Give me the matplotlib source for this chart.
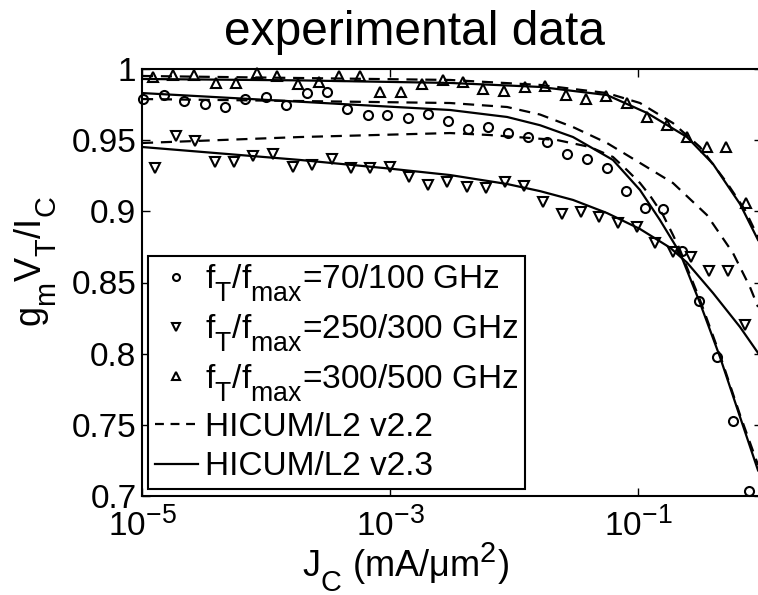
import numpy as np
import matplotlib
matplotlib.use("Agg")
import matplotlib.pyplot as plt
from matplotlib.lines import Line2D
from matplotlib.ticker import NullLocator

plt.rcParams["font.family"] = ["Liberation Sans", "DejaVu Sans"]
plt.rcParams["mathtext.fontset"] = "custom"
plt.rcParams["mathtext.rm"] = "Liberation Sans"
plt.rcParams["mathtext.it"] = "Liberation Sans:italic"
plt.rcParams["mathtext.bf"] = "Liberation Sans:bold"

# MATLAB-style subscripts: a bit larger and lower than matplotlib's default
try:
    from matplotlib import _mathtext
    _mathtext.SHRINK_FACTOR = 0.8
    _mathtext.FontConstantsBase.sub1 = 0.75
except Exception:
    pass

# measured points, x given as log10(J_C / (mA/um^2))
circ_logj = [-4.992, -4.823, -4.661, -4.492, -4.331, -4.169, -4.000, -3.839,
             -3.669, -3.508, -3.347, -3.177, -3.024, -2.855, -2.694, -2.532,
             -2.371, -2.210, -2.048, -1.887, -1.734, -1.573, -1.411, -1.250,
             -1.097, -0.944, -0.798, -0.645, -0.508, -0.363, -0.234, -0.105]
circ_gm = [0.9789, 0.9817, 0.9775, 0.9754, 0.9733, 0.9789, 0.9803, 0.9747,
           0.9831, 0.9838, 0.9719, 0.9677, 0.9677, 0.9656, 0.9684, 0.9635,
           0.9578, 0.9592, 0.9550, 0.9522, 0.9487, 0.9403, 0.9368, 0.9304,
           0.9143, 0.9023, 0.9016, 0.8721, 0.8370, 0.7977, 0.7527, 0.7035]

down_logj = [-4.895, -4.726, -4.573, -4.411, -4.258, -4.105, -3.944, -3.782,
             -3.629, -3.468, -3.315, -3.161, -3.000, -2.847, -2.694, -2.540,
             -2.379, -2.226, -2.073, -1.919, -1.766, -1.613, -1.460, -1.315,
             -1.161, -1.008, -0.863, -0.718, -0.573, -0.427, -0.274, -0.137]
down_gm = [0.9304, 0.9529, 0.9494, 0.9347, 0.9347, 0.9389, 0.9403, 0.9311,
           0.9326, 0.9368, 0.9304, 0.9304, 0.9311, 0.9241, 0.9185, 0.9206,
           0.9171, 0.9164, 0.9206, 0.9178, 0.9066, 0.8981, 0.8995, 0.8960,
           0.8918, 0.8890, 0.8777, 0.8714, 0.8679, 0.8581, 0.8581, 0.8201]

up_logj = [-4.911, -4.750, -4.581, -4.403, -4.242, -4.073, -3.911, -3.742,
           -3.573, -3.411, -3.242, -3.081, -2.911, -2.742, -2.573, -2.411,
           -2.250, -2.081, -1.911, -1.750, -1.581, -1.419, -1.258, -1.089,
           -0.927, -0.766, -0.605, -0.444, -0.290, -0.129]
up_gm = [0.9944, 0.9958, 0.9958, 0.9902, 0.9902, 0.9972, 0.9951, 0.9895,
         0.9909, 0.9951, 0.9951, 0.9838, 0.9838, 0.9895, 0.9923, 0.9909,
         0.9859, 0.9845, 0.9874, 0.9881, 0.9817, 0.9789, 0.9810, 0.9761,
         0.9663, 0.9607, 0.9522, 0.9452, 0.9452, 0.9059]

# model curves
v23_up_logj = [-5.0, -3.726, -2.516, -1.790, -1.250, -0.927, -0.605, -0.395, -0.177, -0.032]
v23_up_gm = [0.9930, 0.9920, 0.9902, 0.9874, 0.9817, 0.9691, 0.9522, 0.9333, 0.9051, 0.8799]

v22_up_logj = [-5.0, -2.516, -1.790, -1.250, -0.984, -0.718, -0.500, -0.282, -0.137, -0.032]
v22_up_gm = [0.9951, 0.9923, 0.9888, 0.9831, 0.9761, 0.9620, 0.9452, 0.9199, 0.9009, 0.8820]

v23_circ_logj = [-5.0, -3.726, -2.516, -2.056, -1.790, -1.524, -1.202, -0.984, -0.823,
                 -0.661, -0.500, -0.339, -0.177, -0.032]
v23_circ_gm = [0.9831, 0.9770, 0.9712, 0.9663, 0.9605, 0.9522, 0.9361, 0.9150, 0.8939,
               0.8707, 0.8356, 0.7977, 0.7555, 0.7180]

v23_down_logj = [-5.0, -3.726, -3.000, -2.516, -2.056, -1.790, -1.524, -1.250, -0.984,
                 -0.742, -0.605, -0.395, -0.177, -0.032]
v23_down_gm = [0.9452, 0.9361, 0.9300, 0.9255, 0.9192, 0.9142, 0.9080, 0.8988, 0.8876,
               0.8745, 0.8640, 0.8426, 0.8187, 0.8005]

v22_a_logj = [-5.0, -3.726, -2.516, -2.056, -1.790, -1.524, -1.250, -0.984, -0.718, -0.444, -0.234, -0.097, -0.032]
v22_a_gm = [0.9789, 0.9775, 0.9761, 0.9733, 0.9680, 0.9592, 0.9480, 0.9340, 0.9199, 0.8974, 0.8707, 0.8468, 0.8328]

v22_b_logj = [-5.0, -3.726, -2.516, -2.194, -1.653, -1.387, -1.202, -1.089, -0.984, -0.903,
              -0.798, -0.718, -0.661, -0.581, -0.500, -0.339, -0.177, -0.032]
v22_b_gm = [0.9480, 0.9522, 0.9550, 0.9536, 0.9501, 0.9452, 0.9382, 0.9290, 0.9199, 0.9110,
            0.8974, 0.8834, 0.8728, 0.8553, 0.8377, 0.7991, 0.7569, 0.7218]

legend_labels = [r"f$_\mathrm{T}$/f$_\mathrm{max}$=70/100 GHz",
                 r"f$_\mathrm{T}$/f$_\mathrm{max}$=250/300 GHz",
                 r"f$_\mathrm{T}$/f$_\mathrm{max}$=300/500 GHz",
                 "HICUM/L2 v2.2",
                 "HICUM/L2 v2.3"]

xticks = [1e-5, 1e-3, 1e-1]
xtick_labels = [r"$\mathregular{10^{-5}}$", r"$\mathregular{10^{-3}}$", r"$\mathregular{10^{-1}}$"]
yticks = [0.7, 0.75, 0.8, 0.85, 0.9, 0.95, 1.0]
ytick_labels = ["0.7", "0.75", "0.8", "0.85", "0.9", "0.95", "1"]


def jc(logj):
    return 10.0 ** np.asarray(logj)


fig = plt.figure(figsize=(7.58, 5.95), dpi=100)
ax = fig.add_axes([142 / 758, 99 / 595, 620 / 758, 427 / 595])

dash = (0, (5, 3.5))
lw = 1.6
for lj, g in [(v22_up_logj, v22_up_gm), (v22_a_logj, v22_a_gm), (v22_b_logj, v22_b_gm)]:
    ax.plot(jc(lj), g, color="k", lw=lw, linestyle=dash)
for lj, g in [(v23_up_logj, v23_up_gm), (v23_circ_logj, v23_circ_gm), (v23_down_logj, v23_down_gm)]:
    ax.plot(jc(lj), g, color="k", lw=lw, linestyle="-")

mk = dict(linestyle="none", markerfacecolor="none", markeredgecolor="k",
          markeredgewidth=1.5, clip_on=False, zorder=3)
ax.plot(jc(circ_logj), circ_gm, marker="o", markersize=6.5, **mk)
ax.plot(jc(down_logj), down_gm, marker="v", markersize=7.5, **mk)
ax.plot(jc(up_logj), up_gm, marker="^", markersize=7.5, **mk)

ax.set_xscale("log")
ax.set_xlim(1e-5, 1)
ax.set_ylim(0.7, 1.0)
ax.set_xticks(xticks)
ax.set_xticklabels(xtick_labels)
ax.xaxis.set_minor_locator(NullLocator())
ax.set_yticks(yticks)
ax.set_yticklabels(ytick_labels)
ax.tick_params(direction="in", top=True, right=True, length=6, width=1.0,
               labelsize=24, color="k")
ax.tick_params(axis="y", pad=4)
ax.tick_params(axis="x", pad=8)
for s in ax.spines.values():
    s.set_linewidth(1.5)

ax.text(0.132, 1.0 + 14 / 427, "experimental data", transform=ax.transAxes,
        fontsize=34.5, ha="left", va="bottom")
ax.set_xlabel(r"J$_\mathrm{C}$ (mA/μm$^\mathregular{2}$)", fontsize=26)
ax.set_ylabel(r"g$_\mathrm{m}$V$_\mathrm{T}$/I$_\mathrm{C}$", fontsize=26)
ax.yaxis.set_label_coords(-0.135, 0.55)
ax.xaxis.set_label_coords(0.425, -0.103)

hk = dict(color="k", markerfacecolor="none", markeredgewidth=1.5)
handles = [Line2D([], [], linestyle="none", marker="o", markersize=5, **hk),
           Line2D([], [], linestyle="none", marker="v", markersize=5.5, **hk),
           Line2D([], [], linestyle="none", marker="^", markersize=5.5, **hk),
           Line2D([], [], linestyle=(0, (4, 3)), lw=lw, color="k"),
           Line2D([], [], linestyle="-", lw=lw, color="k")]
leg = ax.legend(handles, legend_labels, loc="lower left",
                bbox_to_anchor=(0.0097, 0.0164), borderaxespad=0,
                fontsize=24, frameon=True, fancybox=False, framealpha=1,
                edgecolor="k", handlelength=1.3, handletextpad=0.2,
                labelspacing=0.25, borderpad=0.2)
leg.get_frame().set_linewidth(1.5)

fig.savefig("out.png", dpi=100)
